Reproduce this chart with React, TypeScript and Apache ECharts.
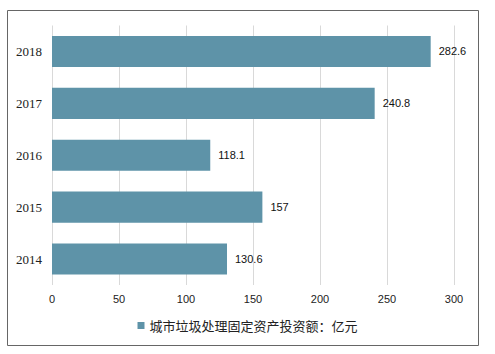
import React, { useEffect, useRef } from "react";
import * as echarts from "echarts";

const categories = ["2014", "2015", "2016", "2017", "2018"];
const values = [130.6, 157, 118.1, 240.8, 282.6];
const seriesName = "城市垃圾处理固定资产投资额：亿元";

export default function App() {
  const ref = useRef<HTMLDivElement>(null);
  useEffect(() => {
    const chart = echarts.init(ref.current!, null, { renderer: "svg" });
    chart.setOption({
      animation: false,
      backgroundColor: "#ffffff",
      graphic: [
        {
          type: "rect",
          shape: { x: 7.5, y: 10.5, width: 471, height: 335 },
          style: { fill: "none", stroke: "#666666", lineWidth: 1 },
          silent: true,
        },
      ],
      grid: { left: 52, right: 41, top: 25.5, bottom: 69, containLabel: false },
      xAxis: {
        type: "value",
        min: 0,
        max: 300,
        interval: 50,
        axisLine: { show: false },
        axisTick: { show: false },
        splitLine: { show: true, lineStyle: { color: "#d9d9d9", width: 1 } },
        axisLabel: {
          color: "#222",
          fontSize: 11,
          fontFamily: "Liberation Sans",
          margin: 8,
        },
      },
      yAxis: {
        type: "category",
        data: categories,
        axisLine: { show: false },
        axisTick: { show: false },
        axisLabel: {
          color: "#222",
          fontSize: 13,
          fontFamily: "Liberation Serif",
          margin: 10,
        },
      },
      legend: {
        bottom: 17,
        left: "center",
        itemWidth: 7,
        itemHeight: 7,
        itemGap: 10,
        icon: "rect",
        textStyle: { color: "#222", fontSize: 13, fontFamily: "Noto Sans CJK SC" },
        data: [seriesName],
      },
      series: [
        {
          name: seriesName,
          type: "bar",
          data: values,
          barCategoryGap: "40%",
          itemStyle: { color: "#5e93a8" },
          label: {
            show: true,
            position: "right",
            distance: 8,
            color: "#111",
            fontSize: 11,
            fontFamily: "Liberation Sans",
          },
        },
      ],
    });
    return () => chart.dispose();
  }, []);
  return (
    <div
      ref={ref}
      style={{ position: "absolute", left: 0, top: 0, width: 495, height: 354 }}
    />
  );
}
